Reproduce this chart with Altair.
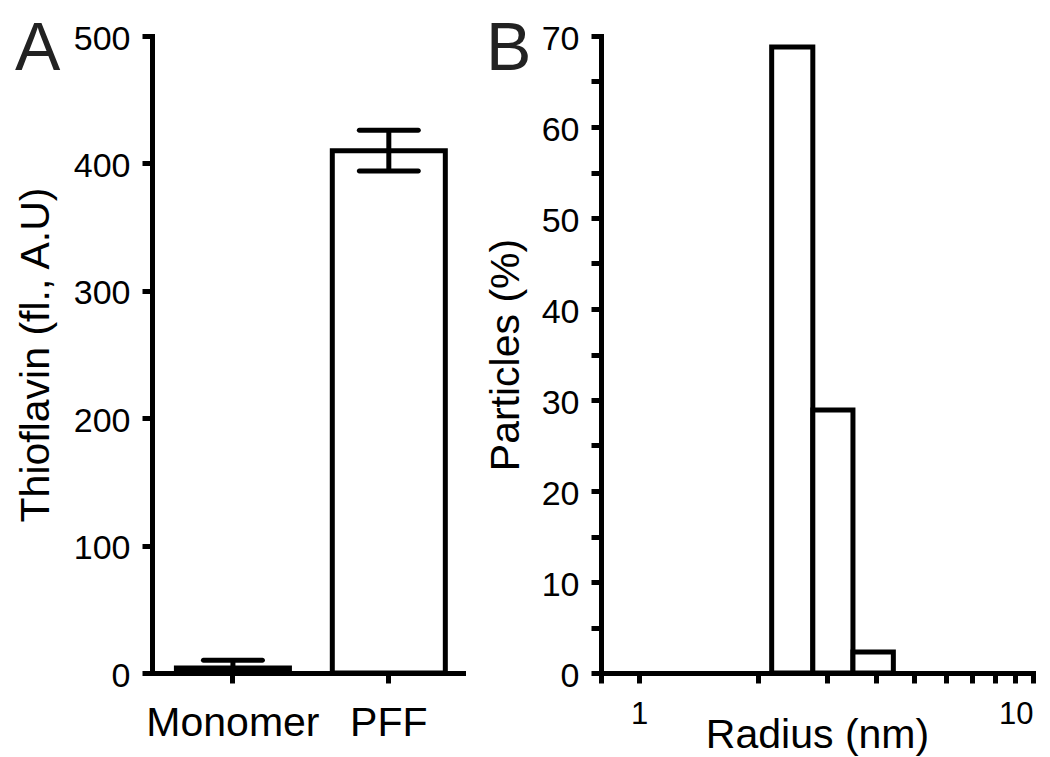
import altair as alt
import pandas as pd

FONT = "Liberation Sans"

# Panel A data
groups = ["Monomer", "PFF"]
thio_mean = [4, 410]
thio_err = [6, 16]
y_ticks_a = [0, 100, 200, 300, 400, 500]

# Panel B data (log-spaced radius bins)
bin_start = [2.17, 2.76, 3.49]
bin_end = [2.76, 3.49, 4.42]
particles = [68.8, 28.9, 2.3]
y_ticks_b = list(range(0, 75, 5))
x_ticks_b = [0.8, 1, 2, 3, 4, 5, 6, 7, 8, 9, 10]

dfa = pd.DataFrame({
    "group": groups,
    "mean": thio_mean,
    "lo": [max(m - e, 0) for m, e in zip(thio_mean, thio_err)],
    "hi": [m + e for m, e in zip(thio_mean, thio_err)],
})
dfb = pd.DataFrame({"start": bin_start, "end": bin_end, "pct": particles})

W_A, W_B, H = 311, 432, 637

xa_scale = alt.Scale(paddingInner=0.275, paddingOuter=0.135, align=0.58)
xa_axis = alt.Axis(title=None, labelAngle=0, labelFontSize=41, labelPadding=52,
                   labelBaseline="alphabetic")
ya_scale = alt.Scale(domain=[0, 500], nice=False)
ya_axis = alt.Axis(values=y_ticks_a, title="Thioflavin (fl., A.U)", labelPadding=12,
                   titlePadding=16, labelOffset=3)

xa = alt.X("group:N", sort=groups, scale=xa_scale, axis=xa_axis)

bars_a = alt.Chart(dfa).mark_bar(fill="white", stroke="black", strokeWidth=5,
                                 strokeJoin="miter").encode(
    x=xa, y=alt.Y("mean:Q", scale=ya_scale, axis=ya_axis))
err_a = alt.Chart(dfa).mark_rule(color="black", strokeWidth=5).encode(
    x=alt.X("group:N", sort=groups), y=alt.Y("lo:Q"), y2="hi:Q")
cap_lo = alt.Chart(dfa).mark_tick(color="black", thickness=5, size=64,
                                  cornerRadius=2.5, opacity=1).encode(
    x=alt.X("group:N", sort=groups), y=alt.Y("lo:Q"))
cap_hi = alt.Chart(dfa).mark_tick(color="black", thickness=5, size=64,
                                  cornerRadius=2.5, opacity=1).encode(
    x=alt.X("group:N", sort=groups), y=alt.Y("hi:Q"))
letter_a = alt.Chart(pd.DataFrame({"t": ["A"]})).mark_text(
    fontSize=68, font=FONT, align="left", baseline="top", color="#222").encode(
    text="t:N", x=alt.value(-137), y=alt.value(-20))

panel_a = alt.layer(bars_a, err_a, cap_lo, cap_hi, letter_a).properties(
    width=W_A, height=H)

xb_axis = alt.Axis(values=x_ticks_b,
                   labelExpr="datum.value == 1 ? '1' : (datum.value == 10 ? '10' : '')",
                   title="Radius (nm)", titleY=74, titleBaseline="alphabetic",
                   labelFontSize=31, labelPadding=40, labelBaseline="alphabetic")
yb_axis = alt.Axis(values=y_ticks_b,
                   labelExpr="datum.value % 10 == 0 ? datum.label : ''",
                   title="Particles (%)", labelPadding=12, titlePadding=14, labelOffset=3)

bars_b = alt.Chart(dfb).mark_bar(fill="white", stroke="black", strokeWidth=5,
                                 strokeJoin="miter").encode(
    x=alt.X("start:Q", scale=alt.Scale(type="log", domain=[0.8, 10], nice=False),
            axis=xb_axis),
    x2="end:Q",
    y=alt.Y("pct:Q", scale=alt.Scale(domain=[0, 70], nice=False), axis=yb_axis),
    y2=alt.datum(0),
)
letter_b = alt.Chart(pd.DataFrame({"t": ["B"]})).mark_text(
    fontSize=68, font=FONT, align="left", baseline="top", color="#222").encode(
    text="t:N", x=alt.value(-115), y=alt.value(-20))

panel_b = alt.layer(bars_b, letter_b).properties(width=W_B, height=H)

chart = alt.hconcat(panel_a, panel_b, spacing=22).properties(
    padding={"left": 7, "top": 8, "right": 5, "bottom": 5}
).configure_view(stroke=None).configure_axis(
    domainColor="black", domainWidth=5, domainCap="square",
    tickColor="black", tickWidth=5, tickSize=10,
    labelFont=FONT, titleFont=FONT, labelColor="black", titleColor="black",
    labelFontSize=34, titleFontSize=41, titleFontWeight="normal", grid=False,
)

chart.save("out.html", embed_options={"renderer": "svg", "actions": False})
